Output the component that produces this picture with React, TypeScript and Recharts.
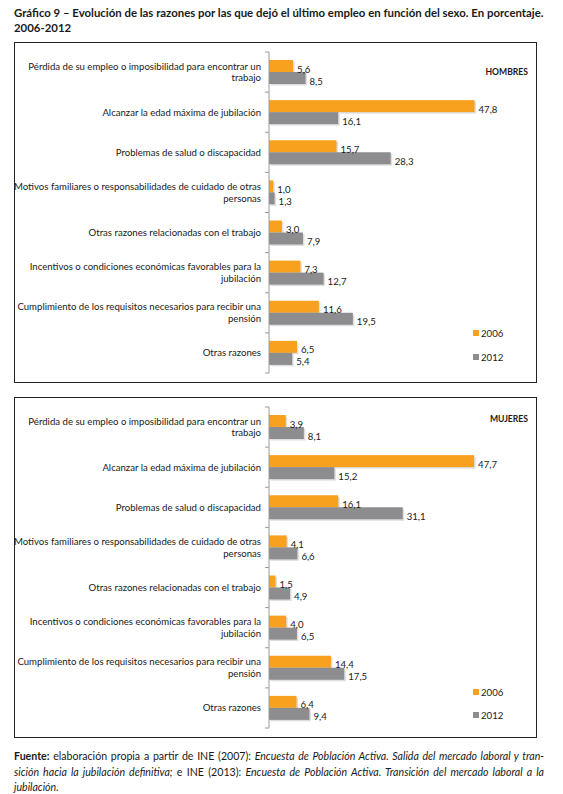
import { BarChart, Bar, XAxis, YAxis } from "recharts";

const FONT = "Lato, 'Liberation Sans', sans-serif";
const ORANGE = "#F7A11E";
const GREY = "#8D8D8F";
const AXIS = "#9a9a9a";

const categories = [
  "Pérdida de su empleo o imposibilidad para encontrar un trabajo",
  "Alcanzar la edad máxima de jubilación",
  "Problemas de salud o discapacidad",
  "Motivos familiares o responsabilidades de cuidado de otras personas",
  "Otras razones relacionadas con el trabajo",
  "Incentivos o condiciones económicas favorables para la jubilación",
  "Cumplimiento de los requisitos necesarios para recibir una pensión",
  "Otras razones",
];

const years = ["2006", "2012"];
const yearColors = [ORANGE, GREY];

const hombres2006 = [5.6, 47.8, 15.7, 1.0, 3.0, 7.3, 11.6, 6.5];
const hombres2012 = [8.5, 16.1, 28.3, 1.3, 7.9, 12.7, 19.5, 5.4];
const mujeres2006 = [3.9, 47.7, 16.1, 4.1, 1.5, 4.0, 14.4, 6.4];
const mujeres2012 = [8.1, 15.2, 31.1, 6.6, 4.9, 6.5, 17.5, 9.4];

const CHART_W = 523;
const CHART_H = 341;
const MARGIN = { top: 10, right: 10, bottom: 10, left: 0 };
const LABEL_GAP = 8;
const TICK_LEN = 4;

// greedy word wrap, same break points as the source layout
function wrap(text: string, max: number) {
  const words = text.split(" ");
  const lines: string[] = [];
  let cur = "";
  for (const w of words) {
    const next = cur ? cur + " " + w : w;
    if (next.length > max && cur) {
      lines.push(cur);
      cur = w;
    } else cur = next;
  }
  if (cur) lines.push(cur);
  return lines;
}

const fmt = (v: number) => v.toFixed(1).replace(".", ",");

// category label + the short tick marks that sit on the band boundaries
function CategoryTick({ x, y, payload, index, band }: any) {
  const lines = wrap(payload.value, 58);
  const lh = 11.5;
  const y0 = y - ((lines.length - 1) * lh) / 2;
  const ax = x + LABEL_GAP;
  const last = index === categories.length - 1;
  return (
    <g>
      <line x1={ax - TICK_LEN} x2={ax} y1={y - band / 2} y2={y - band / 2} stroke={AXIS} />
      {last && <line x1={ax - TICK_LEN} x2={ax} y1={y + band / 2} y2={y + band / 2} stroke={AXIS} />}
      <text textAnchor="end" fontSize={9.6} fill="#1a1a1a" fontFamily={FONT}>
        {lines.map((l, i) => (
          <tspan key={i} x={x} y={y0 + i * lh} dy="0.35em">
            {l}
          </tspan>
        ))}
      </text>
    </g>
  );
}

function ShadowBar({ x, y, width, height, fill }: any) {
  return (
    <g>
      <rect x={x + 1.5} y={y + 1.5} width={width} height={height} fill="#dedede" />
      <rect x={x} y={y} width={width} height={height} fill={fill} />
    </g>
  );
}

function ValueLabel({ x, y, width, height, value }: any) {
  return (
    <text
      x={x + width + 4}
      y={y + height / 2 + 3}
      dominantBaseline="central"
      fontSize={9.6}
      fill="#1a1a1a"
      fontFamily={FONT}
    >
      {fmt(value)}
    </text>
  );
}

function Panel({
  top,
  label,
  labelTop,
  v2006,
  v2012,
  legendTops,
}: {
  top: number;
  label: string;
  labelTop: number;
  v2006: number[];
  v2012: number[];
  legendTops: number[];
}) {
  const data = categories.map((c, i) => ({
    category: c,
    [years[0]]: v2006[i],
    [years[1]]: v2012[i],
  }));
  const band = (CHART_H - MARGIN.top - MARGIN.bottom) / categories.length;
  return (
    <>
      <div
        style={{
          position: "absolute",
          left: 14,
          top,
          width: CHART_W,
          height: CHART_H,
          border: "1.5px solid #222",
          boxSizing: "border-box",
        }}
      />
      <div
        style={{
          position: "absolute",
          right: 563 - 528,
          top: labelTop - 6,
          fontWeight: 700,
          fontSize: 8.6,
          color: "#1a1a1a",
          lineHeight: "12px",
        }}
      >
        {label}
      </div>
      {years.map((yr, i) => (
        <div
          key={yr}
          style={{
            position: "absolute",
            left: 473,
            top: legendTops[i] - 6,
            height: 12,
            display: "flex",
            alignItems: "center",
            fontSize: 9.6,
            color: "#1a1a1a",
          }}
        >
          <span style={{ width: 6, height: 6, background: yearColors[i], marginRight: 2 }} />
          {yr}
        </div>
      ))}
      <div style={{ position: "absolute", left: 14, top }}>
        <BarChart
          width={CHART_W}
          height={CHART_H}
          data={data}
          layout="vertical"
          barSize={12}
          barGap={0}
          margin={MARGIN}
        >
          <XAxis type="number" domain={[0, 60]} hide />
          <YAxis
            type="category"
            dataKey="category"
            width={255}
            axisLine={{ stroke: AXIS }}
            tickLine={false}
            tickSize={0}
            tickMargin={LABEL_GAP}
            interval={0}
            tick={<CategoryTick band={band} />}
          />
          {years.map((yr, i) => (
            <Bar
              key={yr}
              dataKey={yr}
              name={yr}
              fill={yearColors[i]}
              shape={<ShadowBar />}
              label={<ValueLabel />}
              isAnimationActive={false}
            />
          ))}
        </BarChart>
      </div>
    </>
  );
}

export default function App() {
  return (
    <div
      style={{
        position: "absolute",
        left: 0,
        top: 0,
        width: 563,
        height: 794,
        background: "#fff",
        fontFamily: FONT,
      }}
    >
      <div
        style={{
          position: "absolute",
          left: 14,
          top: 5,
          width: 545,
          fontWeight: 700,
          fontSize: 11.4,
          lineHeight: "15px",
          color: "#1a1a1a",
        }}
      >
        Gráfico 9 – Evolución de las razones por las que dejó el último empleo en función del sexo. En porcentaje.
        <br />
        2006-2012
      </div>

      <Panel top={42} label="HOMBRES" labelTop={72} v2006={hombres2006} v2012={hombres2012} legendTops={[333, 357]} />
      <Panel top={397} label="MUJERES" labelTop={419} v2006={mujeres2006} v2012={mujeres2012} legendTops={[692, 715]} />

      <div
        style={{
          position: "absolute",
          left: 14,
          top: 749,
          width: 530,
          fontSize: 10.6,
          lineHeight: "15.5px",
          color: "#1a1a1a",
        }}
      >
        <div style={{ textAlign: "justify", textAlignLast: "justify" }}>
          <b>Fuente:</b> elaboración propia a partir de INE (2007): <i>Encuesta de Población Activa. Salida del mercado laboral y tran-</i>
        </div>
        <div style={{ textAlign: "justify", textAlignLast: "justify" }}>
          <i>sición hacia la jubilación definitiva;</i> e INE (2013): <i>Encuesta de Población Activa. Transición del mercado laboral a la</i>
        </div>
        <div>
          <i>jubilación.</i>
        </div>
      </div>
    </div>
  );
}
